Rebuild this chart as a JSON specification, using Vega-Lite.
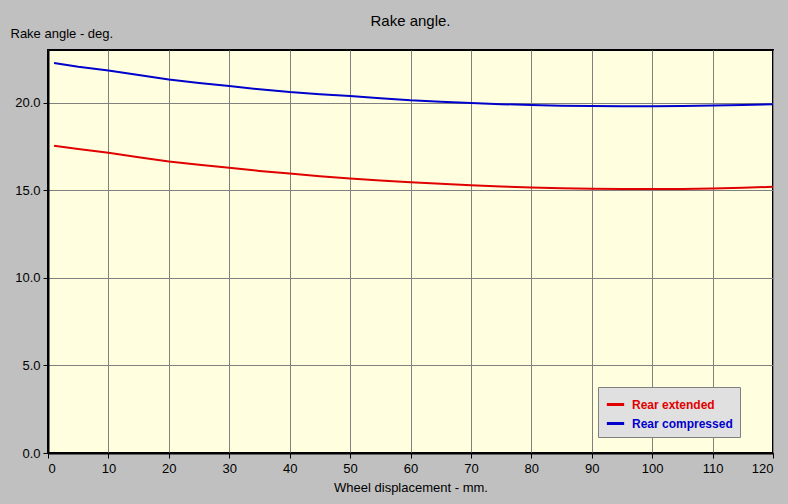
{
  "$schema": "https://vega.github.io/schema/vega-lite/v6.json",
  "width": 725,
  "height": 403,
  "autosize": {"type": "none"},
  "padding": {"left": 48, "top": 50, "right": 15, "bottom": 51},
  "background": "#c0c0c0",
  "title": {
    "text": "Rake angle.",
    "font": "Liberation Sans",
    "fontSize": 15,
    "fontWeight": "normal",
    "color": "black",
    "anchor": "middle",
    "frame": "group",
    "offset": -2
  },
  "data": {
    "values": [
      {"disp": 1, "series": "Rear extended", "angle": 17.53},
      {"disp": 5, "series": "Rear extended", "angle": 17.35},
      {"disp": 10, "series": "Rear extended", "angle": 17.13},
      {"disp": 15, "series": "Rear extended", "angle": 16.88},
      {"disp": 20, "series": "Rear extended", "angle": 16.64},
      {"disp": 25, "series": "Rear extended", "angle": 16.45},
      {"disp": 30, "series": "Rear extended", "angle": 16.28},
      {"disp": 35, "series": "Rear extended", "angle": 16.1},
      {"disp": 40, "series": "Rear extended", "angle": 15.95},
      {"disp": 45, "series": "Rear extended", "angle": 15.8},
      {"disp": 50, "series": "Rear extended", "angle": 15.66},
      {"disp": 55, "series": "Rear extended", "angle": 15.55},
      {"disp": 60, "series": "Rear extended", "angle": 15.45},
      {"disp": 65, "series": "Rear extended", "angle": 15.36},
      {"disp": 70, "series": "Rear extended", "angle": 15.28},
      {"disp": 75, "series": "Rear extended", "angle": 15.21},
      {"disp": 80, "series": "Rear extended", "angle": 15.15},
      {"disp": 85, "series": "Rear extended", "angle": 15.11},
      {"disp": 90, "series": "Rear extended", "angle": 15.08},
      {"disp": 95, "series": "Rear extended", "angle": 15.06},
      {"disp": 100, "series": "Rear extended", "angle": 15.06},
      {"disp": 105, "series": "Rear extended", "angle": 15.07},
      {"disp": 110, "series": "Rear extended", "angle": 15.1},
      {"disp": 115, "series": "Rear extended", "angle": 15.14},
      {"disp": 120, "series": "Rear extended", "angle": 15.19},
      {"disp": 1, "series": "Rear compressed", "angle": 22.26},
      {"disp": 5, "series": "Rear compressed", "angle": 22.05},
      {"disp": 10, "series": "Rear compressed", "angle": 21.83},
      {"disp": 15, "series": "Rear compressed", "angle": 21.57},
      {"disp": 20, "series": "Rear compressed", "angle": 21.32},
      {"disp": 25, "series": "Rear compressed", "angle": 21.12},
      {"disp": 30, "series": "Rear compressed", "angle": 20.94},
      {"disp": 35, "series": "Rear compressed", "angle": 20.76},
      {"disp": 40, "series": "Rear compressed", "angle": 20.6},
      {"disp": 45, "series": "Rear compressed", "angle": 20.48},
      {"disp": 50, "series": "Rear compressed", "angle": 20.38},
      {"disp": 55, "series": "Rear compressed", "angle": 20.25},
      {"disp": 60, "series": "Rear compressed", "angle": 20.13},
      {"disp": 65, "series": "Rear compressed", "angle": 20.05},
      {"disp": 70, "series": "Rear compressed", "angle": 19.98},
      {"disp": 75, "series": "Rear compressed", "angle": 19.91},
      {"disp": 80, "series": "Rear compressed", "angle": 19.86},
      {"disp": 85, "series": "Rear compressed", "angle": 19.82},
      {"disp": 90, "series": "Rear compressed", "angle": 19.8},
      {"disp": 95, "series": "Rear compressed", "angle": 19.79},
      {"disp": 100, "series": "Rear compressed", "angle": 19.79},
      {"disp": 105, "series": "Rear compressed", "angle": 19.8},
      {"disp": 110, "series": "Rear compressed", "angle": 19.83},
      {"disp": 115, "series": "Rear compressed", "angle": 19.86},
      {"disp": 120, "series": "Rear compressed", "angle": 19.9}
    ]
  },
  "mark": {"type": "line", "strokeWidth": 2, "clip": true},
  "encoding": {
    "x": {
      "field": "disp",
      "type": "quantitative",
      "scale": {"domain": [0, 120], "nice": false},
      "axis": {
        "title": "Wheel displacement - mm.",
        "values": [0, 10, 20, 30, 40, 50, 60, 70, 80, 90, 100, 110, 120],
        "labelPadding": 4,
        "titlePadding": 6
      }
    },
    "y": {
      "field": "angle",
      "type": "quantitative",
      "scale": {"domain": [0, 23], "nice": false, "zero": true},
      "axis": {
        "title": "Rake angle - deg.",
        "values": [0, 5, 10, 15, 20],
        "format": ".1f",
        "labelPadding": 3,
        "titleAngle": 0,
        "titleAlign": "left",
        "titleBaseline": "middle",
        "titleX": -38,
        "titleY": -17
      }
    },
    "color": {
      "field": "series",
      "type": "nominal",
      "sort": ["Rear extended", "Rear compressed"],
      "scale": {"domain": ["Rear extended", "Rear compressed"], "range": ["#e00000", "#0000cc"]},
      "legend": {
        "title": null,
        "orient": "none",
        "legendX": 550,
        "legendY": 337,
        "symbolType": "stroke",
        "symbolStrokeWidth": 3,
        "symbolSize": 300,
        "labelFont": "Liberation Sans",
        "labelFontSize": 12,
        "labelFontWeight": "bold",
        "labelColor": {"expr": "datum.label == 'Rear extended' ? '#e00000' : '#0000cc'"},
        "labelExpr": "datum.label + '\u2003\u2002'",
        "fillColor": "#e0e0e0",
        "strokeColor": "#808080",
        "padding": 7,
        "rowPadding": 2,
        "labelOffset": 6,
        "labelLimit": 250
      }
    }
  },
  "config": {
    "font": "Liberation Sans",
    "view": {"fill": "#ffffe0", "stroke": "black", "strokeWidth": 2},
    "axis": {
      "grid": true,
      "gridColor": "#808080",
      "gridOpacity": 1,
      "gridWidth": 1,
      "domainColor": "black",
      "domainWidth": 2,
      "tickColor": "black",
      "tickSize": 5,
      "tickWidth": 1,
      "labelColor": "black",
      "labelFont": "Liberation Sans",
      "labelFontSize": 13,
      "titleFont": "Liberation Sans",
      "titleFontSize": 13,
      "titleFontWeight": "normal",
      "titleColor": "black"
    }
  }
}
